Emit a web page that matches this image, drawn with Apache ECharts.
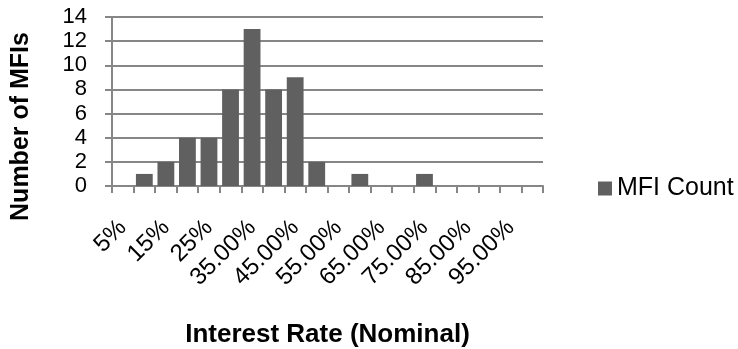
<!DOCTYPE html>
<html><head><meta charset="utf-8">
<script src="https://cdn.jsdelivr.net/npm/echarts@6/dist/echarts.min.js"></script>
<style>html,body{margin:0;padding:0;background:#fff}#c{width:738px;height:349px}</style>
</head><body><div id="c"></div>
<script>
const categories = ["5%","10%","15%","20%","25%","30%","35.00%","40.00%","45.00%","50.00%","55.00%","60.00%","65.00%","70.00%","75.00%","80.00%","85.00%","90.00%","95.00%","100.00%"];
const mfiCount = [0,1,2,4,4,8,13,8,9,2,0,1,0,0,1,0,0,0,0,0];
const yTicks = {min:0, max:14, interval:2};
const seriesName = "MFI Count";
const xTitle = "Interest Rate (Nominal)";
const yTitle = "Number of MFIs";

const font = "'Liberation Sans', Arial, sans-serif";
const chart = echarts.init(document.getElementById('c'));
chart.setOption({
  animation:false,
  grid:{left:112,right:195,top:17,bottom:163,containLabel:false,outerBoundsMode:'none'},
  legend:{data:[seriesName],left:593,top:171,icon:'rect',itemWidth:14,itemHeight:14,itemGap:6,
    textStyle:{fontFamily:font,fontSize:25,color:'#000'}},
  xAxis:{type:'category',data:categories,
    name:xTitle,nameLocation:'middle',nameGap:136,
    nameTextStyle:{fontFamily:font,fontSize:26,fontWeight:'bold',color:'#000'},
    axisLine:{lineStyle:{color:'#868686',width:2}},
    axisTick:{show:true,length:7,lineStyle:{color:'#868686',width:2},interval:0},
    axisLabel:{interval:1,rotate:45,margin:38,fontFamily:font,fontSize:24,color:'#000'}},
  yAxis:{type:'value',min:yTicks.min,max:yTicks.max,interval:yTicks.interval,
    name:yTitle,nameLocation:'middle',nameGap:78,
    nameTextStyle:{fontFamily:font,fontSize:25,fontWeight:'bold',color:'#000',padding:[0,50,0,0]},
    axisLine:{show:true,lineStyle:{color:'#868686',width:2}},
    axisTick:{show:true,length:7,lineStyle:{color:'#868686',width:2}},
    splitLine:{lineStyle:{color:'#868686',width:2}},
    axisLabel:{margin:25,fontFamily:font,fontSize:22,color:'#000'}},
  series:[{name:seriesName,type:'bar',data:mfiCount,barCategoryGap:'22%',
    itemStyle:{color:'#606060'}}]
});
</script></body></html>
